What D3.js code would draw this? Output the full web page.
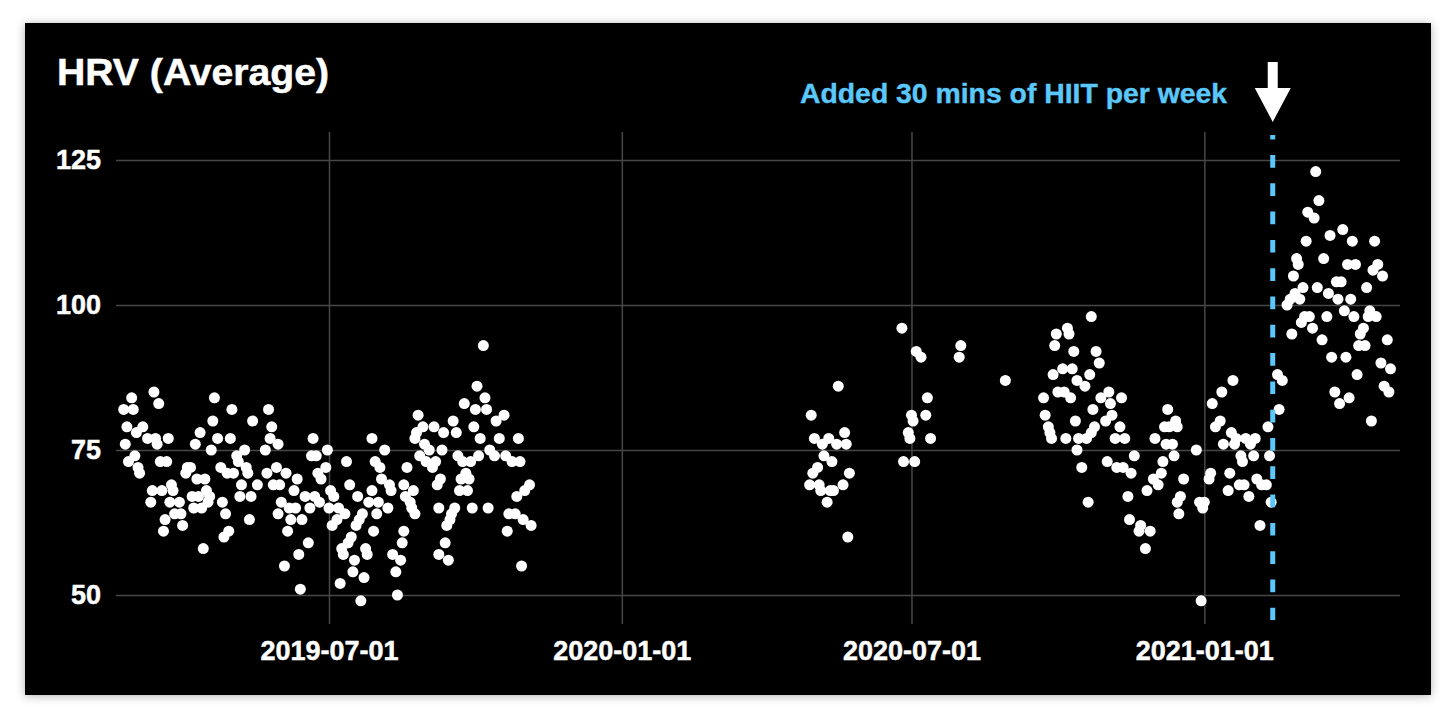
<!DOCTYPE html>
<html>
<head>
    <title>HRV (Average)</title>
    <script src="https://d3js.org/d3.v7.min.js"></script>
    <style>
        body { margin: 0; background: #fff; }
        svg { display: block; font-family: "Liberation Sans", Arial, Helvetica, sans-serif; font-weight: bold; }
    </style>
</head>
<body>
    <svg id="chart" width="1456" height="723"></svg>
    <script>
        // readings taken off the original chart, one value per day
        const dates2019 = [
            "2019-02-27","2019-03-13","2019-03-16","2019-02-22","2019-02-28","2019-02-24","2019-03-06","2019-03-02","2019-03-09","2019-03-14",
            "2019-03-22","2019-02-23","2019-03-15","2019-03-01","2019-02-25","2019-03-03","2019-03-04","2019-03-17","2019-03-21","2019-03-12",
            "2019-03-18","2019-03-24","2019-03-25","2019-03-11","2019-03-23","2019-03-29","2019-03-26","2019-03-30","2019-03-20","2019-03-19",
            "2019-03-31","2019-04-03","2019-04-05","2019-04-02","2019-04-09","2019-04-14","2019-04-06","2019-04-10","2019-04-07","2019-04-12",
            "2019-04-15","2019-04-17","2019-04-16","2019-04-13","2019-04-08","2019-04-11","2019-04-20","2019-04-19","2019-04-22","2019-04-18",
            "2019-05-01","2019-04-30","2019-04-24","2019-04-28","2019-04-25","2019-04-27","2019-04-29","2019-04-26","2019-05-09","2019-05-04",
            "2019-05-05","2019-05-02","2019-05-10","2019-05-11","2019-05-07","2019-05-06","2019-05-13","2019-05-12","2019-05-14","2019-05-17",
            "2019-05-24","2019-05-26","2019-05-25","2019-05-30","2019-05-22","2019-05-29","2019-06-04","2019-05-23","2019-05-27","2019-05-31",
            "2019-06-11","2019-06-09","2019-06-01","2019-06-06","2019-06-10","2019-05-30","2019-06-07","2019-06-14","2019-06-05","2019-06-16",
            "2019-06-19","2019-06-22","2019-06-25","2019-06-18","2019-06-12","2019-06-03","2019-06-13","2019-06-21","2019-06-20","2019-06-23",
            "2019-06-30","2019-06-29","2019-06-24","2019-06-26","2019-07-02","2019-07-04","2019-07-01","2019-07-07","2019-07-11","2019-07-06",
            "2019-07-03","2019-07-12","2019-07-14","2019-07-19","2019-07-28","2019-08-05","2019-07-30","2019-08-02","2019-08-03","2019-08-08",
            "2019-08-09","2019-07-28","2019-07-26","2019-08-01","2019-08-07","2019-07-31","2019-07-22","2019-07-20","2019-07-18","2019-07-29",
            "2019-07-15","2019-07-13","2019-07-09","2019-07-10","2019-07-17","2019-07-24","2019-07-25","2019-07-16","2019-07-23","2019-07-08",
            "2019-07-21","2019-08-12","2019-08-13","2019-08-10","2019-08-15","2019-08-16",
            "2019-10-06","2019-10-02","2019-10-07","2019-09-24","2019-10-01","2019-10-08","2019-10-19","2019-10-14","2019-08-26","2019-09-17",
            "2019-09-30","2019-08-29","2019-09-05","2019-08-25","2019-09-11","2019-09-19","2019-08-24","2019-10-04","2019-10-16","2019-10-28",
            "2019-08-30","2019-09-02","2019-09-10","2019-10-10","2019-10-13","2019-08-27","2019-09-20","2019-10-03","2019-10-20","2019-08-31",
            "2019-09-06","2019-09-23","2019-09-28","2019-10-24","2019-10-29","2019-08-19","2019-09-04","2019-09-25","2019-09-22","2019-09-27",
            "2019-09-09","2019-09-07","2019-08-17","2019-08-23","2019-08-18","2019-09-21","2019-09-26","2019-11-04","2019-11-01","2019-10-27",
            "2019-08-21","2019-08-22","2019-09-08","2019-09-18","2019-09-29","2019-10-09","2019-08-24","2019-09-16","2019-10-22","2019-10-26",
            "2019-09-15","2019-10-31","2019-11-05","2019-09-13","2019-10-21","2019-08-17","2019-09-12","2019-09-08","2019-09-14","2019-10-30"
        ];
        const hrv2019 = [
            84,85,83,82,82,79,79,78,77,77,
            77,76,76,74,73,72,71,73,73,68,
            68,69,68,66,66,66,64,64,63,61,
            62,72,72,71,70,70,67,67,65,65,
            68,67,66,58,76,78,84,80,77,75,
            82,77,72,71,66,64,61,60,75,74,
            73,71,72,71,69,67,67,63,80,69,
            82,79,77,76,75,72,71,71,69,69,
            70,68,66,65,65,64,63,63,61,67,
            65,67,66,59,57,55,51,77,74,74,
            75,72,71,70,68,67,65,65,64,63,
            62,73,69,67,77,75,73,72,70,69,
            68,68,66,66,65,64,64,63,62,61,
            60,59,58,57,56,58,57,54,53,52,
            49,54,50,57,56,59,
            93,86,84,83,82,82,81,80,81,80,
            79,79,79,78,78,78,77,77,77,77,
            76,75,75,75,74,74,74,74,74,73,
            73,73,73,73,73,72,72,71,70,70,
            70,69,69,68,67,68,68,69,68,67,
            66,65,65,65,65,65,64,64,64,64,
            63,63,62,62,61,61,59,57,56,55
        ];

        const datesSummer2020 = [
            "2020-06-25","2020-07-04","2020-07-07","2020-08-01","2020-07-31","2020-08-29","2020-05-16","2020-07-11","2020-04-29","2020-07-01",
            "2020-07-10","2020-07-02","2020-05-20","2020-06-29","2020-05-01","2020-05-10","2020-06-30","2020-07-13","2020-05-06","2020-05-15",
            "2020-05-21","2020-05-07","2020-05-12","2020-06-26","2020-07-03","2020-05-03","2020-04-30","2020-05-23","2020-04-28","2020-05-04",
            "2020-05-19","2020-05-05","2020-05-11","2020-05-13","2020-05-09","2020-05-22"
        ];
        const hrvSummer2020 = [
            96,92,91,93,91,87,86,84,81,81,
            81,80,78,78,77,77,77,77,76,76,
            76,74,73,73,73,72,71,71,69,69,
            69,68,68,68,66,60
        ];

        const datesWinter2020 = [
            "2020-10-22","2020-10-07","2020-09-30","2020-10-08","2020-09-29","2020-10-11","2020-10-25","2020-10-27","2020-10-04","2020-10-10",
            "2020-09-28","2020-10-21","2020-10-13","2020-10-18","2020-10-01","2020-10-05","2020-11-02","2020-09-22","2020-10-09","2020-10-28",
            "2020-11-10","2020-11-03","2020-10-23","2020-09-23","2020-11-04","2020-10-12","2020-10-31","2020-09-25","2020-10-24","2020-11-09",
            "2020-09-26","2020-10-22","2020-09-27","2020-10-06","2020-10-14","2020-10-19","2020-11-06","2020-11-12","2020-12-01","2020-10-13",
            "2020-11-18","2020-11-01","2020-11-07","2020-11-11","2020-10-16","2020-11-16","2020-11-30","2020-11-26","2020-11-14","2020-10-20",
            "2020-11-15","2020-11-22","2020-11-21","2020-11-28","2020-11-25",
            "2021-01-19","2021-01-12","2021-01-06","2020-12-09","2021-01-11","2021-01-08","2020-12-07","2020-12-14","2020-12-15","2020-12-10",
            "2021-02-10","2021-01-18","2021-01-21","2021-01-27","2021-02-02","2021-01-30","2021-01-13","2021-01-20","2020-12-08","2020-12-12",
            "2020-12-27","2020-12-13","2021-01-24","2021-02-01","2021-02-11","2021-01-25","2020-12-06","2020-12-05","2021-01-05","2021-01-17",
            "2021-01-04","2020-12-19","2020-12-03","2021-02-03","2021-01-23","2021-01-26","2021-02-06","2021-02-09","2021-01-16","2021-01-29",
            "2020-12-17","2020-12-15","2020-12-29","2021-01-01","2020-12-31","2021-02-12","2020-12-16","2021-02-05","2020-12-30"
        ];
        const hrvWinter2020 = [
            98,96,95,95,93,92,92,90,89,89,
            88,88,87,86,85,85,85,84,84,84,
            84,83,82,81,81,80,80,79,79,79,
            78,78,77,77,77,77,77,77,77,75,
            74,73,72,72,72,71,70,68,67,66,
            63,62,61,61,58,
            87,85,83,82,80,79,79,80,79,79,
            79,78,77,77,77,76,76,76,76,76,
            75,74,74,74,74,73,73,71,71,71,
            70,70,69,70,69,69,69,69,68,67,
            67,66,66,66,65,66,64,62,49
        ];

        const datesHiit2021 = [
            "2021-03-12","2021-03-14","2021-03-07","2021-03-11","2021-03-29","2021-03-21","2021-03-06","2021-04-04","2021-04-18","2021-02-28",
            "2021-03-01","2021-03-17","2021-04-01","2021-04-06","2021-04-20","2021-04-17","2021-04-23","2021-02-26","2021-03-25","2021-03-28",
            "2021-03-04","2021-03-13","2021-04-13","2021-02-27","2021-03-20","2021-02-24","2021-03-02","2021-03-26","2021-04-03","2021-02-22",
            "2021-03-30","2021-04-15","2021-04-05","2021-04-14","2021-04-19","2021-03-19","2021-03-05","2021-03-08","2021-03-03","2021-03-10",
            "2021-04-11","2021-02-25","2021-04-09","2021-03-16","2021-04-26","2021-04-08","2021-04-12","2021-03-22","2021-03-31","2021-04-22",
            "2021-04-28","2021-04-07","2021-02-16","2021-02-19","2021-04-24","2021-04-27","2021-03-24","2021-04-02","2021-03-27","2021-02-17",
            "2021-04-16"
        ];
        const hrvHiit2021 = [
            123,118,116,115,113,112,111,111,111,108,
            107,108,107,107,107,106,105,105,104,104,
            103,103,103,102,102,101,101,101,101,100,
            99,99,98,98,98,98,98,98,97,96,
            96,95,95,94,94,93,93,91,91,90,
            89,88,88,87,86,85,85,84,83,82,
            80
        ];

        const yTicks = [50, 75, 100, 125];
        const xTicks = ["2019-07-01", "2020-01-01", "2020-07-01", "2021-01-01"];
        const titleText = "HRV (Average)";
        const noteText = "Added 30 mins of HIIT per week";
        const noteDate = "2021-02-13";

        const parse = d3.utcParse("%Y-%m-%d");
        const points = [
            [dates2019, hrv2019],
            [datesSummer2020, hrvSummer2020],
            [datesWinter2020, hrvWinter2020],
            [datesHiit2021, hrvHiit2021]
        ].flatMap(([ds, vs]) => ds.map((d, i) => ({ date: parse(d), value: vs[i] })));

        const svg = d3.select("#chart");

        // soft shadow round the black card
        const defs = svg.append("defs");
        const f = defs.append("filter").attr("id", "shadow")
            .attr("x", "-5%").attr("y", "-5%").attr("width", "110%").attr("height", "110%");
        f.append("feDropShadow").attr("dx", 0).attr("dy", 1).attr("stdDeviation", 5)
            .attr("flood-color", "#000").attr("flood-opacity", 0.3);

        svg.append("rect").attr("x", 25).attr("y", 23).attr("width", 1406).attr("height", 672)
            .attr("fill", "#000").attr("filter", "url(#shadow)");

        const x = d3.scaleUtc()
            .domain([parse("2019-07-01"), parse("2021-01-01")])
            .range([329, 1204.3]);
        const y = d3.scaleLinear().domain([50, 125]).range([595, 160]);

        const gridColor = "#474747";

        // labels look a bit heavier in the original, so thicken them slightly
        function styleLabels(sel) {
            sel.attr("fill", "#fff").attr("stroke", "#fff").attr("stroke-width", 0.5)
                .style("font-size", "27px").style("font-family", "inherit").style("font-weight", "bold");
        }

        // x axis + vertical grid
        const xAxis = svg.append("g").attr("transform", "translate(0,624)")
            .call(d3.axisBottom(x)
                .tickValues(xTicks.map(parse))
                .tickFormat(d3.utcFormat("%Y-%m-%d"))
                .tickSize(-492).tickPadding(17));
        xAxis.select(".domain").remove();
        xAxis.selectAll("line").attr("stroke", gridColor).attr("stroke-width", 1.5);
        styleLabels(xAxis.selectAll("text"));

        // y axis + horizontal grid
        const yAxis = svg.append("g").attr("transform", "translate(116,0)")
            .call(d3.axisLeft(y).tickValues(yTicks).tickSize(-1284).tickPadding(15));
        yAxis.select(".domain").remove();
        yAxis.selectAll("line").attr("stroke", gridColor).attr("stroke-width", 1.5);
        styleLabels(yAxis.selectAll("text"));

        // dots
        svg.append("g").selectAll("circle").data(points).join("circle")
            .attr("cx", d => x(d.date))
            .attr("cy", d => y(d.value))
            .attr("r", 5.5)
            .attr("fill", "#fff");

        // title
        svg.append("text").attr("x", 57).attr("y", 85)
            .attr("fill", "#fff").attr("stroke", "#fff").attr("stroke-width", 0.5)
            .attr("textLength", 272).attr("lengthAdjust", "spacingAndGlyphs")
            .style("font-size", "37px").text(titleText);

        // annotation
        const nx = x(parse(noteDate));
        svg.append("line")
            .attr("x1", nx).attr("x2", nx).attr("y1", 135).attr("y2", 620)
            .attr("stroke", "#5ac8fa").attr("stroke-width", 5)
            .attr("stroke-dasharray", "12.7,15.6").attr("stroke-dashoffset", 8.3);

        svg.append("text").attr("x", 800).attr("y", 102.7)
            .attr("fill", "#5ac8fa").attr("stroke", "#5ac8fa").attr("stroke-width", 0.4)
            .attr("textLength", 427).attr("lengthAdjust", "spacingAndGlyphs")
            .style("font-size", "28px").text(noteText);

        svg.append("path")
            .attr("d", `M${nx - 5},62 L${nx + 5},62 L${nx + 5},88 L${nx + 18},88 L${nx},122 L${nx - 18},88 L${nx - 5},88 Z`)
            .attr("fill", "#fff");
    </script>
</body>
</html>
